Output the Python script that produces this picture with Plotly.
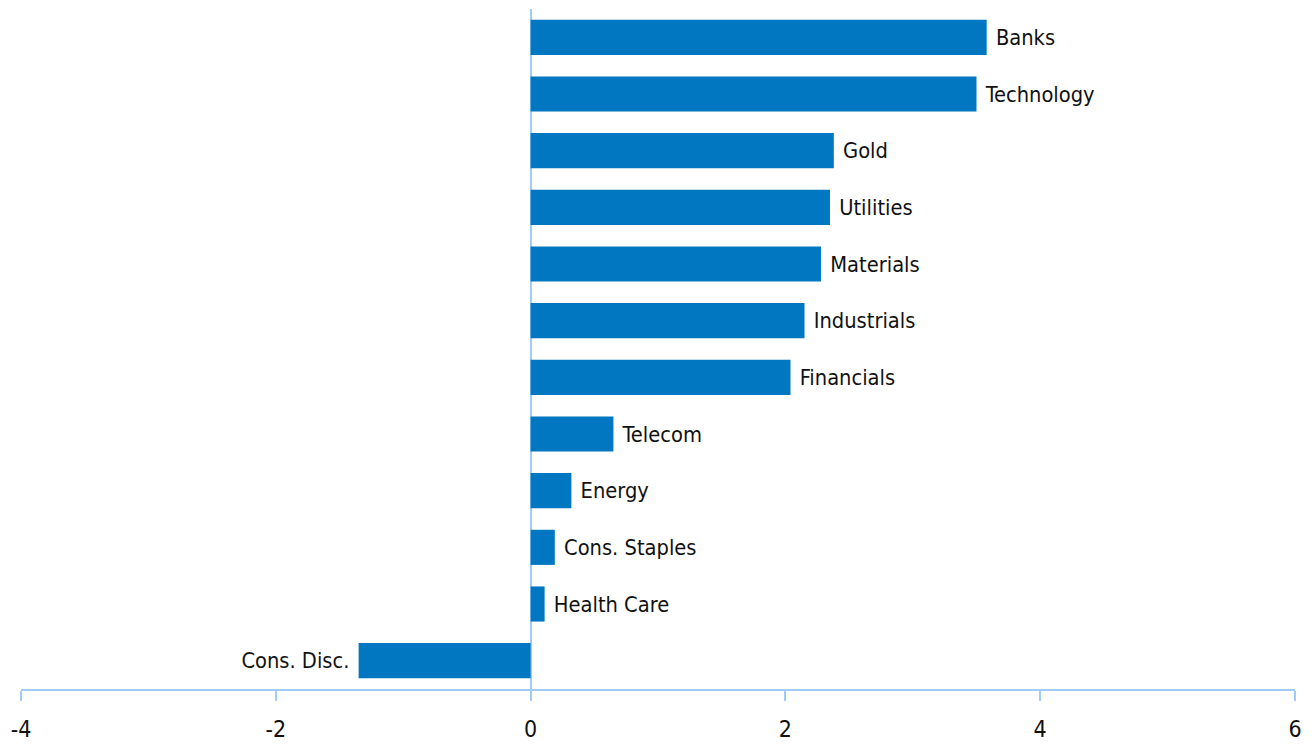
import plotly.graph_objects as go

sectors = ["Banks", "Technology", "Gold", "Utilities", "Materials", "Industrials",
           "Financials", "Telecom", "Energy", "Cons. Staples", "Health Care", "Cons. Disc."]
values = [3.58, 3.50, 2.38, 2.35, 2.28, 2.15, 2.04, 0.65, 0.32, 0.19, 0.11, -1.35]
x_ticks = [-4, -2, 0, 2, 4, 6]

NB = "\u00a0"
labels = [(NB + s) if v >= 0 else (s + NB) for s, v in zip(sectors, values)]

BAR = "#0077C0"
AXIS = "#9FCCF8"
FONT = "DejaVu Sans Condensed, Liberation Sans Narrow, Roboto Condensed, sans-serif"

fig = go.Figure(go.Bar(
    x=values, y=sectors, orientation="h",
    marker=dict(color=BAR, line=dict(width=0)),
    text=labels, textposition="outside", constraintext="none",
    textfont=dict(family=FONT, size=21.7, color="#111111"),
    cliponaxis=False, hoverinfo="skip",
))

fig.update_layout(
    width=1304, height=737,
    margin=dict(l=13, r=17, t=1, b=56, autoexpand=False),
    plot_bgcolor="white", paper_bgcolor="white",
    bargap=0.38, showlegend=False,
    font=dict(family=FONT, size=21.7, color="#111111"),
)
fig.update_xaxes(
    range=[-4, 6], tickvals=x_ticks, ticktext=[str(t) for t in x_ticks],
    showgrid=False, showline=True, linecolor=AXIS, linewidth=2,
    ticks="outside", ticklen=10, tickwidth=2, tickcolor=AXIS,
    zeroline=True, zerolinecolor=AXIS, zerolinewidth=2,
    tickfont=dict(family=FONT, size=23, color="#111111"),
    ticklabelstandoff=8,
    fixedrange=True, automargin=False,
)
fig.update_yaxes(
    categoryorder="array", categoryarray=sectors, autorange="reversed",
    showticklabels=False, showgrid=False, showline=False, zeroline=False,
    ticks="", fixedrange=True,
)

fig.write_html("out.html")
